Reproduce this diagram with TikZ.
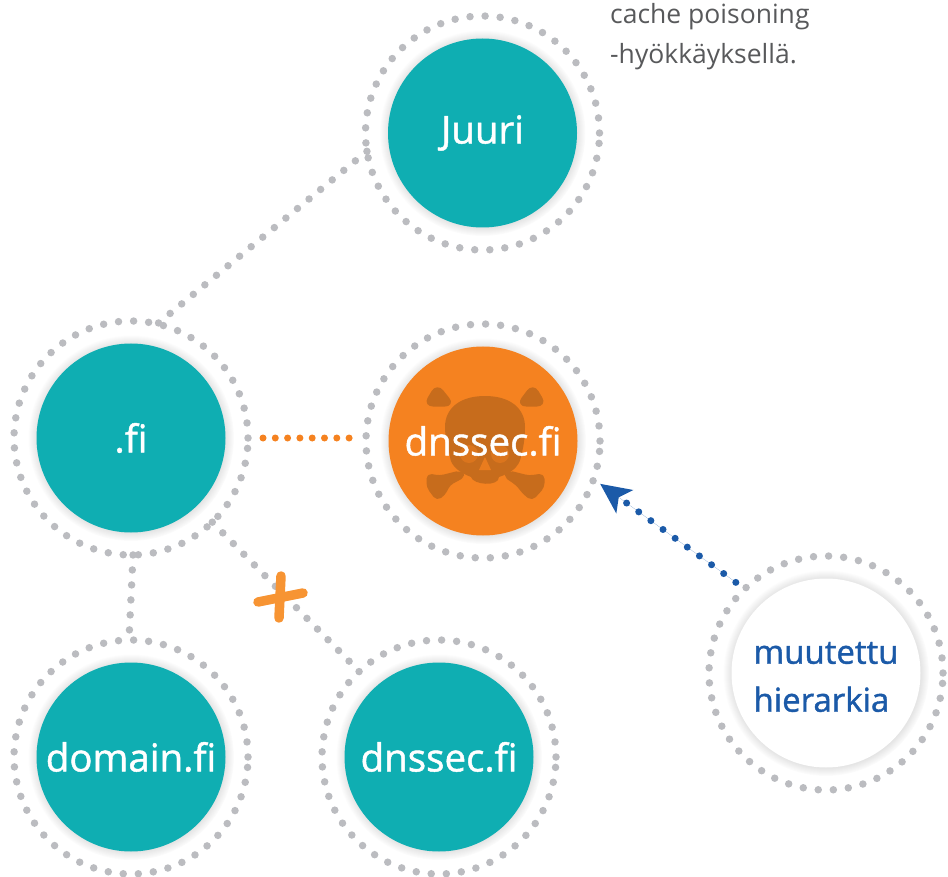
\documentclass[tikz,border=0pt]{standalone}
\usepackage{fontspec}
\setmainfont{Open Sans}
\newfontfamily\zonefont[FakeBold=1.2]{Open Sans}
\usepackage{tikz}
\usetikzlibrary{arrows.meta,shadows,fadings}
\definecolor{tealdns}{HTML}{0FAEB2}
\definecolor{orangedns}{HTML}{F58220}
\definecolor{crossorange}{HTML}{F79433}
\definecolor{bluedns}{HTML}{1B5AA8}
\definecolor{dotgrey}{HTML}{BBBCC0}
\definecolor{skullbrown}{HTML}{C76C1C}
\definecolor{notegrey}{HTML}{58595B}
\tikzset{
	halo/.style={circular drop shadow={shadow xshift=0pt,shadow yshift=0pt,shadow scale=1.09,opacity=.3,fill=black!60}},
	zone/.style={circle,minimum size=189pt,inner sep=0pt,outer sep=0pt,halo},
	zonelabel/.style={text=white,font=\zonefont\fontsize{38.5}{44}\selectfont},
	ring/.style={circle,draw=dotgrey,minimum size=234pt,inner sep=0pt,outer sep=0pt,line width=7.5pt,line cap=round,dash pattern=on 0pt off 15.1pt},
	dots/.style={draw=dotgrey,line width=7.5pt,line cap=round,dash pattern=on 0pt off 15pt},
}
\begin{document}
\begin{tikzpicture}
	[x=1pt,y=-1pt]
	\useasboundingbox (0,0) rectangle (948,877);
	% rings
	\node [ring] (juuri ring) at (482.5,133) {};
	\node [ring] (fi ring) at (131,438) {};
	\node [ring] (attacker ring) at (483,441) {};
	\node [ring] (domain ring) at (131,757) {};
	\node [ring] (dnssec ring) at (439,757) {};
	\node [ring] (hierarkia ring) at (826,673) {};
	% discs
	\node [zone,fill=tealdns] (juuri) at (482.5,133) {};
	\node [zone,fill=tealdns] (fi) at (131,438) {};
	\node [zone,fill=orangedns] (attacker) at (483,441) {};
	\node [zone,fill=tealdns] (domain) at (131,757) {};
	\node [zone,fill=tealdns] (dnssec) at (439,757) {};
	\node [zone,fill=white] (hierarkia) at (826,673) {};
	% skull
	\begin{scope}[shift={(attacker.center)},fill=skullbrown,draw=skullbrown,line join=round,line width=3pt]
		\filldraw [rounded corners=8pt] (-46,-56) -- (-58,-36) -- (-30,-36) -- cycle;
		\filldraw [rounded corners=8pt] (50,-56) -- (35,-36) -- (62,-36) -- cycle;
		\filldraw [rounded corners=4pt] (-19,35) -- (-23,31) -- (-43,36) -- (-55,34) -- (-55,46) -- (-46,58) -- (-39,53) -- (-34,43) -- cycle;
		\filldraw [rounded corners=4pt] (22,35) -- (26,31) -- (46,36) -- (60,34) -- (60,46) -- (49,58) -- (42,53) -- (34,43) -- cycle;
		\fill (2,-45) .. controls (-24,-45) and (-38,-32) .. (-38,-14)
			.. controls (-38,-2) and (-34,8) .. (-33,16)
			.. controls (-32,26) and (-22,32) .. (-12,36)
			.. controls (-10,44) and (16,46) .. (16,36)
			.. controls (28,32) and (36,26) .. (38,16)
			.. controls (40,8) and (42,-2) .. (42,-14)
			.. controls (42,-32) and (28,-45) .. (2,-45) -- cycle;
		\fill [orangedns,opacity=.45] (-14,13) circle (9pt);
		\fill [orangedns,opacity=.45] (17,13) circle (9pt);
		\fill [orangedns,opacity=.75] (2,16) -- (-4,29) -- (8,29) -- cycle;
	\end{scope}
	% labels
	\node [zonelabel] (juuri label) at (juuri) {Juuri};
	\node [zonelabel] (fi label) at (fi) {.fi};
	\node [zonelabel] (attacker label) at (attacker) {dnssec.fi};
	\node [zonelabel] (domain label) at (domain) {domain.fi};
	\node [zonelabel] (dnssec label) at (dnssec) {dnssec.fi};
	\node [text=bluedns,align=left,font=\zonefont\fontsize{33}{48}\selectfont] (hierarkia label) at (826,677) {muutettu\\hierarkia};
	\node [anchor=north west,inner sep=0pt,text=notegrey,align=left,font=\fontsize{26.5}{40}\selectfont] (note) at (610,3) {cache poisoning\\-hyökkäyksellä.};
	% connectors
	\draw [dots] (juuri ring.189) -- (fi ring.77);
	\draw [dots] (fi ring.271) -- (domain ring.91);
	\draw [dots] (fi ring.314) -- (dnssec ring.133);
	\draw [dots,draw=orangedns,line width=7pt,dash pattern=on 0pt off 12.3pt,shorten <=15pt,shorten >=15pt] (fi ring.east) -- (fi ring.east -| attacker ring.west);
	\draw [dots,draw=bluedns,fill=bluedns,line width=7pt,shorten <=11pt,shorten >=8pt,-{Stealth[length=30pt,width=28pt,inset=7pt]}] (hierarkia ring.134) -- (attacker ring.341);
	% cross
	\draw [crossorange,line width=9.5pt,line cap=round] (258,602) -- (303,593);
	\draw [crossorange,line width=9.5pt,line cap=round] (281,576) -- (279,618);
\end{tikzpicture}
\end{document}
